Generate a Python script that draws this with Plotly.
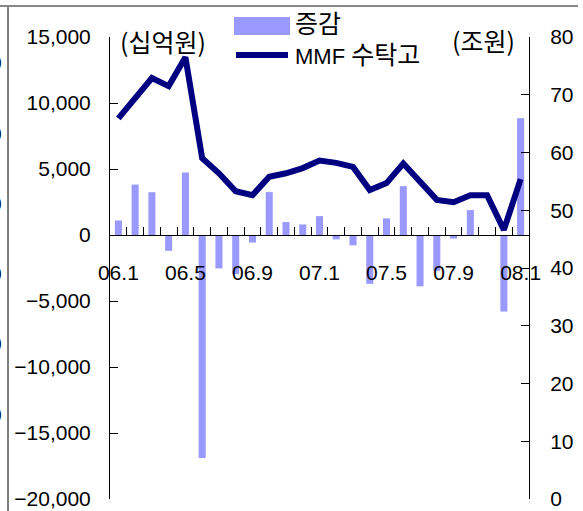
import plotly.graph_objects as go

# ---- data ----
months = ["06.1", "06.2", "06.3", "06.4", "06.5", "06.6", "06.7", "06.8", "06.9",
          "06.10", "06.11", "06.12", "07.1", "07.2", "07.3", "07.4", "07.5", "07.6",
          "07.7", "07.8", "07.9", "07.10", "07.11", "07.12", "08.1"]
change_bn = [1100, 3820, 3240, -1200, 4730, -16900, -2530, -2950, -570,
             3250, 980, 800, 1430, -330, -780, -3700, 1260, 3700,
             -3890, -2710, -270, 1890, 0, -5800, 8850]
mmf_tn = [65.9, 69.4, 72.9, 71.5, 76.5, 59.0, 56.4, 53.3, 52.6,
          55.8, 56.4, 57.3, 58.6, 58.2, 57.5, 53.5, 54.7, 58.1,
          54.8, 51.8, 51.4, 52.6, 52.6, 46.6, 55.4]
shown_labels = ["06.1", "06.5", "06.9", "07.1", "07.5", "07.9", "08.1"]
left_ticks = [-20000, -15000, -10000, -5000, 0, 5000, 10000, 15000]
right_ticks = [0, 10, 20, 30, 40, 50, 60, 70, 80]

BAR_COLOR = "#9999FF"
LINE_COLOR = "#000080"
FONT = "Liberation Sans, Arial, Noto Sans CJK KR, sans-serif"
KFONT = "Noto Sans CJK KR, sans-serif"

W, H = 583, 511
L, R, T, B = 110, 529, 37, 499


def px(x):
    return (x - L) / (R - L)


def py(y):
    return (B - y) / (B - T)


fig = go.Figure()
fig.add_trace(go.Bar(x=months, y=change_bn, marker=dict(color=BAR_COLOR, line=dict(width=0)),
                     name="증감", yaxis="y", showlegend=False))
fig.add_trace(go.Scatter(x=months, y=mmf_tn, mode="lines", name="MMF 수탁고",
                         line=dict(color=LINE_COLOR, width=6), yaxis="y2", showlegend=False))

ticktext = [m if m in shown_labels else "" for m in months]

fig.update_layout(
    width=W, height=H,
    margin=dict(l=L, r=W - R, t=T, b=H - B, pad=0, autoexpand=False),
    paper_bgcolor="white", plot_bgcolor="white",
    bargap=0.58,
    font=dict(family=FONT, size=21, color="black"),
    xaxis=dict(type="category", anchor="free", position=20 / 35, automargin=False,
               showline=True, linecolor="black", linewidth=1,
               tickson="boundaries", ticks="inside", ticklen=8, tickcolor="black",
               tickvals=months, ticktext=ticktext, tickangle=0,
               ticklabelstandoff=19,
               showgrid=False, zeroline=False, range=[-0.5, 24.5],
               tickfont=dict(family=FONT, size=21)),
    yaxis=dict(range=[-20000, 15000], tickvals=left_ticks, tickformat=",d", automargin=False,
               showline=True, linecolor="black", linewidth=1,
               ticks="inside", ticklen=8, tickcolor="black",
               showgrid=False, zeroline=False, ticklabelstandoff=14,
               tickfont=dict(family=FONT, size=21)),
    yaxis2=dict(range=[0, 80], tickvals=right_ticks, overlaying="y", side="right",
                automargin=False,
                showline=True, linecolor="black", linewidth=1,
                ticks="inside", ticklen=8, tickcolor="black",
                showgrid=False, zeroline=False, ticklabelstandoff=16,
                tickfont=dict(family=FONT, size=21)),
)

shapes = [
    # top gray frame line and left black frame line
    dict(type="line", xref="paper", yref="paper", x0=px(0), x1=px(578), y0=py(6), y1=py(6),
         line=dict(color="#888888", width=2)),
    dict(type="line", xref="paper", yref="paper", x0=px(8), x1=px(8), y0=py(7), y1=py(515),
         line=dict(color="black", width=1)),
    # legend swatches
    dict(type="rect", xref="paper", yref="paper", x0=px(234), x1=px(290), y0=py(35), y1=py(17),
         fillcolor=BAR_COLOR, line=dict(width=0)),
    dict(type="line", xref="paper", yref="paper", x0=px(236), x1=px(288), y0=py(55), y1=py(55),
         line=dict(color=LINE_COLOR, width=6)),
]
fig.update_layout(shapes=shapes)

annotations = [
    dict(text="증감", x=px(293), y=py(22), xref="paper", yref="paper", xanchor="left",
         yanchor="middle", showarrow=False, font=dict(family=KFONT, size=25)),
    dict(text="MMF <span style='font-size:25px'>수탁고</span>", x=px(293), y=py(55),
         xref="paper", yref="paper", xanchor="left",
         yanchor="middle", showarrow=False, font=dict(family=FONT, size=22)),
    dict(text="(십억원)", x=px(118), y=py(41), xref="paper", yref="paper", xanchor="left",
         yanchor="middle", showarrow=False, font=dict(family=KFONT, size=25)),
    dict(text="(조원)", x=px(517), y=py(40), xref="paper", yref="paper", xanchor="right",
         yanchor="middle", showarrow=False, font=dict(family=KFONT, size=25)),
]
for yy in [62, 133, 203, 273, 343, 414]:
    annotations.append(dict(text="0", x=px(4), y=py(yy), xref="paper", yref="paper",
                            xanchor="right", yanchor="middle", showarrow=False,
                            font=dict(family=FONT, size=21)))
fig.update_layout(annotations=annotations)

fig.write_html("out.html", config={"displayModeBar": False},
               post_script="document.body.style.margin='0';document.body.style.overflow='hidden';")
